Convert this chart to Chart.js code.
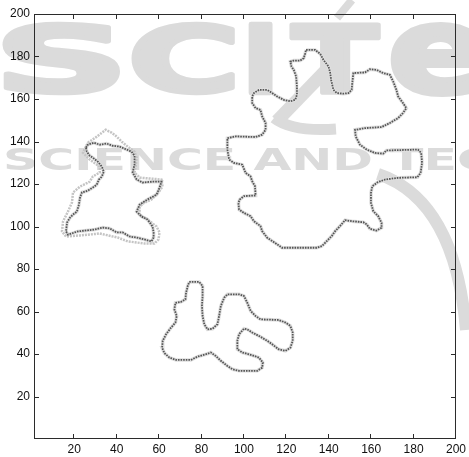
<!DOCTYPE html>
<html>
<head>
<meta charset="utf-8">
<script src="https://cdn.jsdelivr.net/npm/chart.js@4/dist/chart.umd.min.js"></script>
<style>
  html, body { margin: 0; padding: 0; background: #fff; }
  #wrap { width: 469px; height: 457px; position: relative; }
</style>
</head>
<body>
<div id="wrap"><canvas id="chart"></canvas></div>
<script>
// tick labels
const xTicks = [20, 40, 60, 80, 100, 120, 140, 160, 180, 200];
const yTicks = [20, 40, 60, 80, 100, 120, 140, 160, 180, 200];

// big region (upper right)
const bigX = [129.3,133.6,136.0,137.5,139.9,140.7,141.1,142.2,143.8,146.9,
  149.3,150.8,151.1,151.6,157.1,159.4,162.5,165.7,168.8,170.4,
  171.9,172.7,175.0,176.6,175.0,172.7,168.8,164.9,157.1,152.4,
  152.7,154.7,157.9,161.8,165.7,167.2,182.1,183.6,184.0,183.3,
  181.8,172.7,166.5,163.0,160.5,159.9,159.9,161.0,163.3,164.9,
  164.9,162.5,159.4,157.9,156.3,150.8,147.7,145.3,143.0,141.4,
  136.8,134.4,118.0,115.7,111.0,108.6,107.8,104.7,103.1,100.0,
  97.7,97.4,98.0,100.0,105.5,105.2,103.9,103.1,100.8,99.2,
  95.3,93.0,92.2,92.2,96.1,105.5,108.6,110.2,110.2,108.6,
  107.8,105.5,103.9,103.9,104.7,107.1,111.0,113.3,115.7,118.8,
  121.9,124.2,125.0,125.0,124.6,123.5,122.4,121.9,123.5,126.6,128.2,128.9];
const bigY = [183.1,183.1,181.2,178.4,175.3,172.2,169.0,164.3,162.8,162.5,
  162.8,164.3,167.5,172.2,172.5,174.0,173.7,172.2,171.4,168.2,
  164.3,161.2,158.1,155.7,153.4,151.0,148.7,146.8,146.3,145.5,
  142.4,138.5,136.2,134.6,134.3,135.8,136.2,134.6,129.9,125.2,
  123.2,122.9,122.1,120.8,118.9,115.8,111.1,107.2,104.9,101.7,
  99.4,98.1,98.9,101.0,102.0,102.5,103.0,100.2,97.8,95.5,
  90.8,90.0,90.0,91.6,94.7,97.8,100.2,102.5,104.9,106.4,
  108.0,111.1,112.7,114.3,114.6,119.0,121.3,123.6,125.2,129.1,
  129.9,131.5,136.2,141.6,142.4,142.1,143.2,145.5,148.7,151.8,
  154.9,155.7,158.1,161.2,162.8,164.3,164.3,162.8,161.2,159.6,
  158.9,159.6,162.0,165.9,170.6,173.7,175.3,177.6,178.1,178.1,179.2,181.5];

// left region, dark contour
const leftX = [25.5,26.4,29.2,32.0,35.3,38.1,41.4,44.7,47.0,48.4,
  48.4,47.5,49.4,52.2,56.9,61.1,60.2,58.8,54.5,50.8,
  49.4,51.7,54.5,56.9,57.4,57.4,56.4,53.1,49.4,46.1,
  42.8,40.0,36.7,33.4,29.7,21.7,17.0,16.1,16.6,18.0,
  19.4,21.2,22.2,22.7,23.6,26.4,28.7,30.6,31.6,33.0,
  33.9,33.0,31.1,28.7,27.3,25.9];
const leftY = [137.1,138.5,139.4,138.5,139.0,138.0,137.6,136.2,135.2,133.3,
  129.1,125.4,122.1,120.7,121.1,121.1,118.3,115.0,112.7,110.3,
  107.0,104.7,103.3,100.0,97.2,94.8,93.0,93.9,94.8,95.3,
  97.2,97.2,99.1,99.5,98.6,97.7,96.2,97.7,101.9,104.2,
  105.6,107.0,110.3,113.6,116.0,116.9,118.3,119.7,122.1,123.5,
  125.8,128.2,130.5,132.4,133.3,135.2];

// left region, light contour
const leftOuterX = [26.4,30.6,33.0,34.8,37.7,40.0,42.4,45.2,48.4,49.4,
  48.9,48.4,50.8,56.4,61.1,61.6,59.7,56.4,52.2,50.8,
  50.8,54.5,58.8,60.2,59.7,57.8,53.1,45.2,40.5,32.0,
  22.7,16.1,14.2,14.7,17.0,18.9,19.4,22.7,27.3,28.7,
  32.0,32.0,27.3,24.1,25.5];
const leftOuterY = [139.4,142.3,144.1,145.5,144.1,142.3,139.9,137.6,135.2,132.4,
  128.2,125.4,123.0,122.5,122.1,118.8,116.0,112.7,110.8,108.9,
  105.6,103.3,100.0,97.2,93.9,92.0,92.0,93.0,94.8,96.7,
  95.8,95.3,97.7,102.4,107.0,111.3,116.0,118.8,121.1,123.5,
  125.4,128.2,131.5,134.7,137.6];

// lower region
const lowX = [74.2,78.9,80.5,80.5,80.2,80.5,81.3,82.8,85.2,87.5,
  88.3,89.1,90.7,92.2,97.7,100.0,101.6,103.2,105.5,107.8,
  116.4,119.6,121.9,123.0,123.0,121.9,119.6,116.4,113.3,111.0,
  107.1,103.9,101.6,100.0,97.7,96.9,96.9,99.3,103.9,107.1,
  108.9,108.6,106.3,100.8,97.7,94.6,92.2,89.1,86.7,84.4,
  82.1,78.2,75.0,71.1,68.0,64.9,62.5,61.4,61.7,63.3,
  65.6,67.7,68.3,67.2,67.7,70.3,72.4,72.7,73.5];
const lowY = [73.9,73.9,72.0,67.3,62.6,57.9,54.0,51.6,51.9,54.0,
  57.9,62.6,66.5,68.1,68.1,67.3,64.1,60.2,57.9,56.3,
  56.0,54.8,53.2,50.1,46.2,43.0,41.5,42.2,44.6,46.2,
  48.5,50.1,51.6,51.9,49.3,46.2,42.2,40.7,39.4,38.3,
  36.0,33.6,32.1,32.1,32.1,32.8,34.4,36.8,39.1,40.7,
  39.9,38.8,37.2,37.2,37.2,38.3,40.4,43.0,46.2,49.3,
  52.4,54.8,57.9,61.0,64.1,64.5,65.7,68.8,72.0];

// closed contour from x/y lists
function loop(xs, ys) {
  const p = xs.map((x, i) => ({ x: x, y: ys[i] }));
  p.push(p[0]);
  return p;
}

const DARK = '#555555';
const HALO = '#e0e0e0';
const LIGHT = '#c4c4c4';

function darkSet(data) {
  return { data: data, showLine: true, pointRadius: 0, borderColor: DARK,
    borderWidth: 1.8, borderDash: [1.6, 1], order: 0 };
}
function haloSet(data) {
  return { data: data, showLine: true, pointRadius: 0, borderColor: HALO,
    borderWidth: 3.5, order: 2 };
}

// letter stretched into a box (watermark)
function fitText(ctx, ch, x, y, w, h, font) {
  ctx.save();
  ctx.font = font;
  const m = ctx.measureText(ch);
  const bw = m.actualBoundingBoxLeft + m.actualBoundingBoxRight;
  const bh = m.actualBoundingBoxAscent + m.actualBoundingBoxDescent;
  ctx.translate(x, y);
  ctx.scale(w / bw, h / bh);
  ctx.lineWidth = 5;
  ctx.lineJoin = 'round';
  ctx.fillText(ch, m.actualBoundingBoxLeft, m.actualBoundingBoxAscent);
  ctx.strokeText(ch, m.actualBoundingBoxLeft, m.actualBoundingBoxAscent);
  ctx.restore();
}

const watermark = {
  id: 'watermark',
  beforeDraw(chart) {
    const ctx = chart.ctx;
    ctx.save();
    ctx.fillStyle = '#fff';
    ctx.fillRect(0, 0, chart.width, chart.height);
    ctx.fillStyle = '#dbdbdb';
    ctx.strokeStyle = '#dbdbdb';
    const big = 'bold 100px "DejaVu Sans"';
    fitText(ctx, 'S', 7, 24, 109, 69, big);
    fitText(ctx, 'C', 134, 24, 97, 69, big);
    fitText(ctx, 'I', 251, 24, 19, 69, big);
    fitText(ctx, 'T', 292, 24, 86, 69, big);
    fitText(ctx, 'e', 394, 24, 90, 69, big);
    // accent + chevron + swoosh of the logo
    ctx.lineCap = 'butt';
    ctx.lineWidth = 8;
    ctx.beginPath(); ctx.moveTo(337, 18); ctx.lineTo(352, 0); ctx.stroke();
    ctx.lineWidth = 13;
    ctx.beginPath(); ctx.moveTo(333, 63); ctx.lineTo(277, 121); ctx.stroke();
    ctx.lineWidth = 11;
    ctx.beginPath(); ctx.moveTo(274, 118); ctx.quadraticCurveTo(292, 132, 336, 129); ctx.stroke();
    ctx.lineWidth = 12;
    ctx.beginPath(); ctx.moveTo(378, 174); ctx.quadraticCurveTo(455, 200, 466, 330); ctx.stroke();
    // second line of the logo
    ctx.font = 'bold 30px "DejaVu Sans"';
    const w1 = ctx.measureText('SCIENCE AND ').width;
    ctx.translate(3, 170);
    ctx.scale(387 / w1, 1.0);
    ctx.textBaseline = 'alphabetic';
    ctx.fillText('SCIENCE AND TECHNOLOGY', 0, 0);
    ctx.restore();
  }
};

const frame = {
  id: 'frame',
  afterDraw(chart) {
    const ctx = chart.ctx;
    const a = chart.chartArea;
    const xs = chart.scales.x, ys = chart.scales.y;
    ctx.save();
    ctx.strokeStyle = '#2b2b2b';
    ctx.lineWidth = 1;
    ctx.strokeRect(a.left + 0.5, a.top + 0.5, a.right - a.left - 1, a.bottom - a.top - 1);
    ctx.beginPath();
    xTicks.forEach(v => {
      const p = Math.round(xs.getPixelForValue(v)) - 0.5;
      ctx.moveTo(p, a.bottom); ctx.lineTo(p, a.bottom - 5);
      ctx.moveTo(p, a.top); ctx.lineTo(p, a.top + 5);
    });
    yTicks.forEach(v => {
      const p = Math.round(ys.getPixelForValue(v)) + 0.5;
      ctx.moveTo(a.left, p); ctx.lineTo(a.left + 5, p);
      ctx.moveTo(a.right, p); ctx.lineTo(a.right - 5, p);
    });
    ctx.stroke();
    ctx.restore();
  }
};

const tickFont = { family: '"Liberation Sans", Arial, sans-serif', size: 12 };

new Chart(document.getElementById('chart'), {
  type: 'scatter',
  data: {
    datasets: [
      darkSet(loop(bigX, bigY)),
      darkSet(loop(leftX, leftY)),
      darkSet(loop(lowX, lowY)),
      { data: loop(leftOuterX, leftOuterY), showLine: true, pointRadius: 0,
        borderColor: LIGHT, borderWidth: 2.5, borderDash: [2, 1], order: 1 },
      haloSet(loop(bigX, bigY)),
      haloSet(loop(leftX, leftY)),
      haloSet(loop(lowX, lowY))
    ]
  },
  options: {
    responsive: true,
    maintainAspectRatio: false,
    animation: false,
    layout: { padding: { top: 14, right: 11, left: 0, bottom: 0 } },
    plugins: { legend: { display: false }, tooltip: { enabled: false } },
    scales: {
      x: {
        type: 'linear', min: 1, max: 200,
        grid: { display: false, drawTicks: false },
        border: { display: false },
        afterBuildTicks: s => { s.ticks = xTicks.map(v => ({ value: v })); },
        afterFit: s => { s.height = 18; },
        ticks: { font: tickFont, color: '#111', padding: 3, maxRotation: 0, autoSkip: false }
      },
      y: {
        type: 'linear', min: 0, max: 200,
        grid: { display: false, drawTicks: false },
        border: { display: false },
        afterBuildTicks: s => { s.ticks = yTicks.map(v => ({ value: v })); },
        afterFit: s => { s.width = 34; },
        ticks: { font: tickFont, color: '#111', padding: 4, autoSkip: false }
      }
    }
  },
  plugins: [watermark, frame]
});
</script>
</body>
</html>
